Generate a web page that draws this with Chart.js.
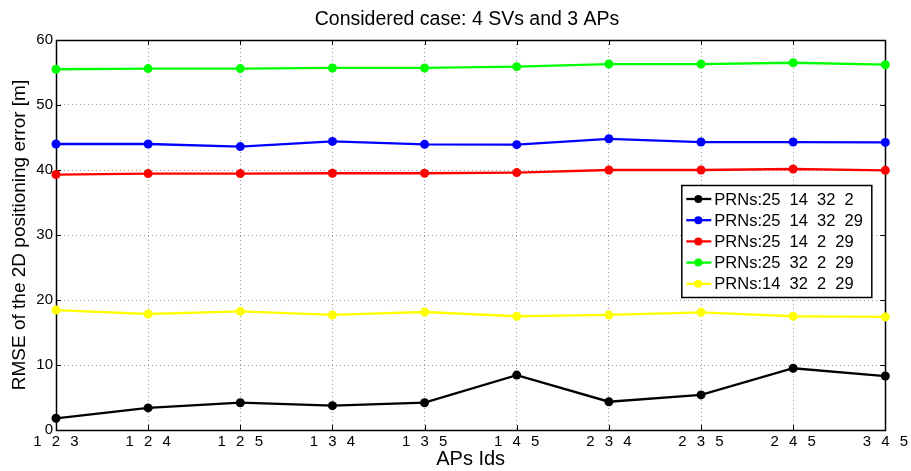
<!DOCTYPE html>
<html>
<head>
<meta charset="utf-8">
<script src="https://cdn.jsdelivr.net/npm/chart.js@4.4.0/dist/chart.umd.min.js"></script>
<style>
  html, body { margin: 0; padding: 0; background: #fff; }
  #wrap { width: 911px; height: 471px; position: relative; }
</style>
</head>
<body>
<div id="wrap"><canvas id="c"></canvas></div>
<script>
// Access point triples on the x axis
const apIds = ['1 2 3', '1 2 4', '1 2 5', '1 3 4', '1 3 5', '1 4 5', '2 3 4', '2 3 5', '2 4 5', '3 4 5'];

// Satellite subsets (legend text)
const seriesLabels = [
  'PRNs:25  14  32  2',
  'PRNs:25  14  32  29',
  'PRNs:25  14  2  29',
  'PRNs:25  32  2  29',
  'PRNs:14  32  2  29'
];
const seriesColors = ['#000000', '#0000ff', '#ff0000', '#00ff00', '#ffff00'];

// RMSE of the 2D positioning error [m]
const rmse_25_14_32_2  = [1.8, 3.4, 4.2, 3.75, 4.2, 8.45, 4.35, 5.4, 9.5, 8.3];
const rmse_25_14_32_29 = [44.0, 44.0, 43.6, 44.4, 43.95, 43.9, 44.8, 44.3, 44.3, 44.25];
const rmse_25_14_2_29  = [39.3, 39.45, 39.45, 39.5, 39.5, 39.6, 40.0, 40.0, 40.15, 39.95];
const rmse_25_32_2_29  = [55.5, 55.6, 55.6, 55.7, 55.7, 55.9, 56.3, 56.3, 56.5, 56.2];
const rmse_14_32_2_29  = [18.45, 17.85, 18.25, 17.7, 18.15, 17.5, 17.7, 18.1, 17.5, 17.4];

const yTicks = [0, 10, 20, 30, 40, 50, 60];

const seriesValues = [rmse_25_14_32_2, rmse_25_14_32_29, rmse_25_14_2_29, rmse_25_32_2_29, rmse_14_32_2_29];

const FONT = "'Liberation Sans', Arial, Helvetica, sans-serif";

// Centre the title over the plot box rather than the whole canvas
const titleCentering = {
  id: 'titleCentering',
  afterLayout(chart) {
    const t = chart.titleBlock;
    if (t) { t.left = 23; t.right = chart.width; }
  }
};

// Axes box with inward tick marks on all four sides
const boxPlugin = {
  id: 'axesBox',
  beforeDatasetsDraw(chart) {
    const { ctx, chartArea: a, scales } = chart;
    const x = scales.x, y = scales.y;
    const tl = 5;
    ctx.save();
    ctx.strokeStyle = '#000';
    ctx.lineWidth = 1;
    ctx.beginPath();
    apIds.forEach((_, i) => {
      const px = Math.round(x.getPixelForValue(i)) + 0.5;
      ctx.moveTo(px, a.bottom); ctx.lineTo(px, a.bottom - tl);
      ctx.moveTo(px, a.top); ctx.lineTo(px, a.top + tl);
    });
    yTicks.forEach(v => {
      const py = Math.round(y.getPixelForValue(v)) + 0.5;
      ctx.moveTo(a.left, py); ctx.lineTo(a.left + tl, py);
      ctx.moveTo(a.right, py); ctx.lineTo(a.right - tl, py);
    });
    ctx.stroke();
    ctx.lineWidth = 1.5;
    ctx.strokeRect(Math.round(a.left) + 0.5, Math.round(a.top) + 0.5,
                   Math.round(a.right - a.left), Math.round(a.bottom - a.top));
    ctx.restore();
  }
};

// Boxed legend in the right half of the plot
const legendPlugin = {
  id: 'boxLegend',
  afterDatasetsDraw(chart) {
    const { ctx, chartArea: a } = chart;
    const bx = a.left + (a.right - a.left) * 0.754;
    const by = a.top + 145;
    const bw = 190, bh = 112;
    ctx.save();
    ctx.fillStyle = '#fff';
    ctx.fillRect(bx, by, bw, bh);
    ctx.strokeStyle = '#000';
    ctx.lineWidth = 1.5;
    ctx.strokeRect(bx + 0.5, by + 0.5, bw, bh);
    ctx.font = '16.5px ' + FONT;
    ctx.textBaseline = 'middle';
    chart.data.datasets.forEach((ds, i) => {
      const cy = by + 14 + i * 21.2;
      ctx.strokeStyle = ds.borderColor;
      ctx.lineWidth = 2.3;
      ctx.beginPath();
      ctx.moveTo(bx + 5, cy); ctx.lineTo(bx + 30, cy);
      ctx.stroke();
      ctx.fillStyle = ds.borderColor;
      ctx.beginPath();
      ctx.arc(bx + 17, cy, 4, 0, Math.PI * 2);
      ctx.fill();
      ctx.fillStyle = '#000';
      ctx.fillText(ds.label, bx + 33, cy + 1);
    });
    ctx.restore();
  }
};

const edgeless = (ctx) => {
  const n = ctx.chart.scales[ctx.scale.id].ticks.length;
  return (ctx.index === 0 || ctx.index === n - 1) ? 'rgba(0,0,0,0)' : '#9a9a9a';
};

new Chart(document.getElementById('c'), {
  type: 'line',
  data: {
    labels: apIds,
    datasets: seriesValues.map((vals, i) => ({
      label: seriesLabels[i],
      data: vals,
      borderColor: seriesColors[i],
      backgroundColor: seriesColors[i],
      borderWidth: 2.3,
      pointRadius: 4.5,
      pointBorderWidth: 0,
      pointHoverRadius: 4.5,
      tension: 0,
      clip: false
    }))
  },
  options: {
    responsive: true,
    maintainAspectRatio: false,
    animation: false,
    layout: { padding: { left: 0, right: 25, top: 0, bottom: 0 } },
    plugins: {
      legend: { display: false },
      tooltip: { enabled: false },
      title: {
        display: true,
        text: 'Considered case: 4 SVs and 3 APs',
        color: '#000',
        font: { family: FONT, size: 19.5, weight: 'normal' },
        padding: { top: 8, bottom: 8.6 }
      }
    },
    scales: {
      x: {
        type: 'category',
        offset: false,
        afterFit(s) { s.height = 41; },
        grid: { color: edgeless, drawTicks: false, lineWidth: 1 },
        border: { display: false, dash: [1, 3] },
        ticks: {
          color: '#000',
          font: { family: FONT, size: 15 },
          padding: 3,
          maxRotation: 0,
          autoSkip: false,
          callback(v) { return apIds[v].split(' ').join('\u2009 \u2009'); }
        },
        title: {
          display: true,
          text: 'APs Ids',
          color: '#000',
          font: { family: FONT, size: 20 },
          padding: { top: 0, bottom: 0 }
        }
      },
      y: {
        min: 0,
        max: 60,
        afterFit(s) { s.width = 56; },
        afterBuildTicks(s) { s.ticks = yTicks.map(v => ({ value: v })); },
        grid: { color: edgeless, drawTicks: false, lineWidth: 1 },
        border: { display: false, dash: [1, 3] },
        ticks: {
          color: '#000',
          font: { family: FONT, size: 15 },
          padding: 3
        },
        title: {
          display: true,
          text: 'RMSE of the 2D positioning error [m]',
          color: '#000',
          font: { family: FONT, size: 19 },
          padding: { top: 8, bottom: 0 }
        }
      }
    }
  },
  plugins: [titleCentering, boxPlugin, legendPlugin]
});
</script>
</body>
</html>
